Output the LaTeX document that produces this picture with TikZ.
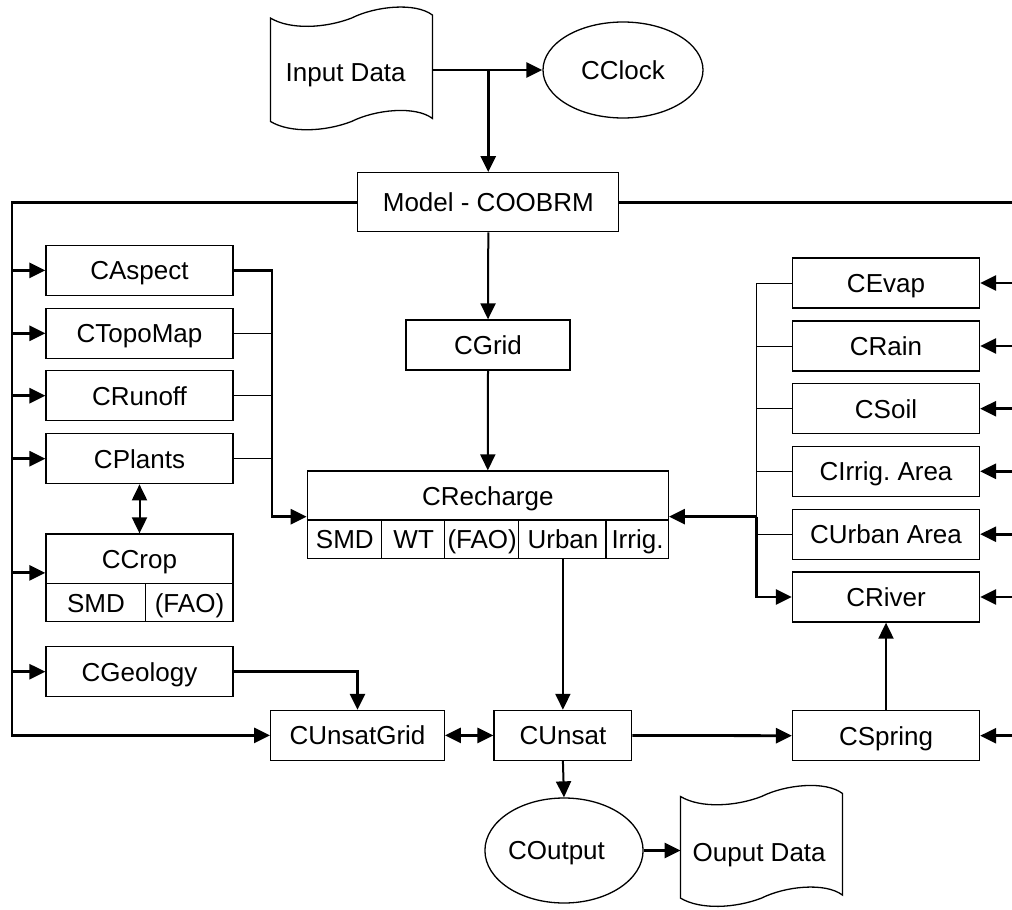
\documentclass[tikz,border=0pt]{standalone}
\usepackage{fontspec}
\setmainfont{Liberation Sans}
\usetikzlibrary{arrows.meta,shapes.geometric,calc}
\begin{document}
\begin{tikzpicture}[x=1pt,y=-1pt,
  every node/.style={font=\fontsize{26}{30}\selectfont, text height=18.6pt, text depth=0pt, inner sep=0pt},
  box/.style={draw, line width=1.3pt, minimum width=187pt, minimum height=50pt},
  oval/.style={draw, ellipse, line width=1.3pt},
  bl/.style={line width=1.3pt},
  thk/.style={line width=2.8pt},
  mid/.style={line width=2pt},
  thn/.style={line width=1pt},
  arr/.style={-{Triangle[length=16pt,width=15pt]}},
  darr/.style={{Triangle[length=16pt,width=15pt]}-{Triangle[length=16pt,width=15pt]}}]
\useasboundingbox (0,0) rectangle (1012,910);

% ---------- top ----------
\node[minimum width=162pt, minimum height=103.4pt] (indata) at (351.7,70) {\raisebox{-2pt}{Input Data}\hspace*{12pt}};
\draw[bl, shift={(indata.north west)}] (0,0) .. controls (20,12) and (55,10) .. (81,0)
  .. controls (105,-12) and (145,-16) .. (162,-3) -- (162,100.4)
  .. controls (145,87.4) and (105,91.4) .. (81,103.4)
  .. controls (55,113.4) and (20,115.4) .. (0,103.4) -- cycle;
\node[oval, minimum width=160pt, minimum height=96pt] (cclock) at (623,70) {CClock};
\node[box, minimum width=261pt, minimum height=59pt] (model) at (488.3,202.2) {Model - COOBRM};

% ---------- left column ----------
\node[box] (caspect) at (139.5,270.4) {CAspect};
\node[box] (ctopomap) at (139.5,333.3) {CTopoMap};
\node[box] (crunoff) at (139.5,395.7) {CRunoff};
\node[box] (cplants) at (139.5,458.7) {CPlants};
\node[box, minimum height=87.7pt] (ccrop) at (139.5,577.85) {};
\node (ccroptitle) at (139.5,559) {CCrop};
\node (ccropsmd) at (96,602.8) {SMD};
\node (ccropfao) at (189.5,602.8) {(FAO)};
\draw[bl] ($(ccrop.north west)+(0,50)$) -- ($(ccrop.north east)+(0,50)$);
\draw[bl] ($(ccrop.north west)+(100,50)$) -- ($(ccrop.south west)+(100,0)$);
\node[box] (cgeology) at (139.5,671.7) {CGeology};

% ---------- centre ----------
\node[box, minimum width=164pt] (cgrid) at (488,345) {CGrid};
\node[box, minimum width=361pt, minimum height=87.3pt] (crecharge) at (487.8,514.65) {};
\node (crtitle) at (487.8,496) {CRecharge};
\draw[bl] ($(crecharge.north west)+(0,49.7)$) -- ($(crecharge.north east)+(0,49.7)$);
\foreach \dx in {75,137.7,212,299.4}
  \draw[bl] ($(crecharge.north west)+(\dx,49.7)$) -- ($(crecharge.south west)+(\dx,0)$);
\node (crsmd) at (344.8,539.5) {SMD};
\node (crwt) at (413.7,539.5) {WT};
\node (crfao) at (482.2,539.5) {(FAO)};
\node (crurban) at (563,539.5) {Urban};
\node (crirrig) at (637.5,539.5) {Irrig.};

% ---------- right column ----------
\node[box] (cevap) at (886,283) {CEvap};
\node[box] (crain) at (886,346) {CRain};
\node[box] (csoil) at (886,408.7) {CSoil};
\node[box] (cirrig) at (886,471.3) {CIrrig.\ Area};
\node[box] (curban) at (886,534.2) {CUrban Area};
\node[box] (criver) at (886,597) {CRiver};
\node[box] (cspring) at (886,735.7) {CSpring};

% ---------- bottom ----------
\node[box, minimum width=173.6pt] (cunsatgrid) at (357.5,735.4) {CUnsatGrid};
\node[box, minimum width=137.7pt] (cunsat) at (562.9,735.4) {CUnsat};
\node[oval, minimum width=158pt, minimum height=105pt] (coutput) at (564,850.5) {COutput\hspace*{15pt}};
\node[minimum width=162pt, minimum height=101.6pt] (outdata) at (761.7,847.5) {\raisebox{-5pt}{Ouput Data}\hspace*{5pt}};
\draw[bl, shift={(outdata.north west)}] (0,0) .. controls (20,12) and (55,10) .. (81,0)
  .. controls (105,-12) and (145,-16) .. (162,-3) -- (162,98.6)
  .. controls (145,85.6) and (105,89.6) .. (81,101.6)
  .. controls (55,111.6) and (20,113.6) .. (0,101.6) -- cycle;

% ---------- helper coordinates ----------
\coordinate (lb0) at (12,0);
\coordinate (lb) at (272,0);
\coordinate (rb) at (756.5,0);
\coordinate (re) at (1012,0);
\coordinate (crin) at ($(crecharge.west)+(0,2)$);
\coordinate (crinr) at ($(crecharge.east)+(0,2)$);
\coordinate (ccropin) at ($(ccrop.west)+(0,-5)$);
\coordinate (jn) at (indata.east -| model.north);

% ---------- connectors ----------
\draw[thk,arr] (indata.east) -- (cclock.west);
\draw[thk,arr] (jn) -- (model.north);
\draw[thk] (model.east) -- (model.east -| re);
\draw[thk,arr] (model.west) -| (lb0 |- cunsatgrid.west) -- (cunsatgrid.west);
\foreach \n in {caspect,ctopomap,crunoff,cplants,cgeology}
  \draw[thk,arr] (\n.west -| lb0) -- (\n.west);
\draw[thk,arr] (ccropin -| lb0) -- (ccropin);

\draw[thk,arr] (caspect.east) -| (lb |- crin) -- (crin);
\foreach \n in {ctopomap,crunoff,cplants}
  \draw[thn] (\n.east) -- (\n.east -| lb);
\draw[mid,darr] (cplants.south) -- (ccrop.north);
\draw[thk,arr] (cgeology.east) -| (cunsatgrid.north);

\draw[mid,arr] (model.south) -- (cgrid.north);
\draw[mid,arr] (cgrid.south) -- (crecharge.north);
\draw[mid,arr] (crecharge.south -| cunsat.north) -- (cunsat.north);

\draw[thn] (cevap.west) -| (rb |- crinr);
\foreach \n in {crain,csoil,cirrig,curban}
  \draw[thn] (\n.west) -- (\n.west -| rb);
\draw[thk,arr] (rb |- crinr) -- (crinr);
\draw[thk,arr] (rb |- crinr) |- (criver.west);
\foreach \n in {cevap,crain,csoil,cirrig,curban,criver,cspring}
  \draw[thk,arr] (\n.east -| re) -- (\n.east);

\draw[thk,darr] (cunsatgrid.east) -- (cunsat.west);
\draw[thk,arr] (cunsat.east) -- (cspring.west);
\draw[mid,arr] (cspring.north) -- (criver.south);
\draw[mid,arr] (cunsat.south) -- (coutput.north);
\draw[thk,arr] (coutput.east) -- (coutput.east -| outdata.west);
\end{tikzpicture}
\end{document}
